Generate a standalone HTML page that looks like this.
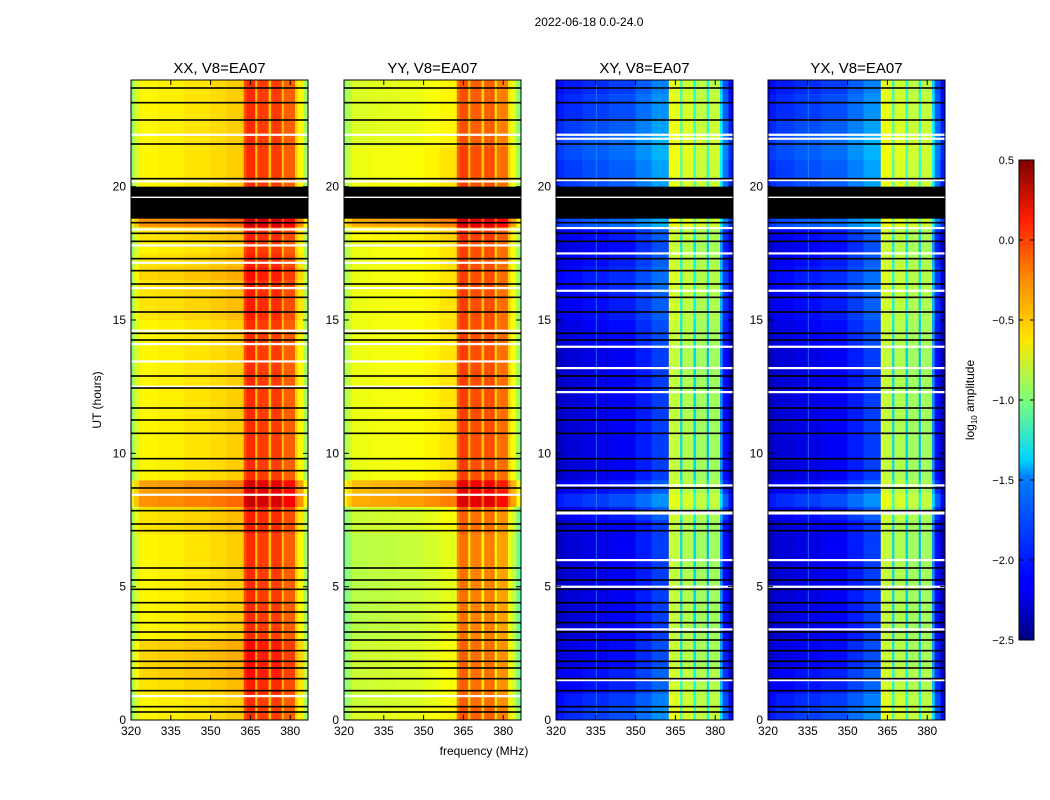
<!DOCTYPE html>
<html><head><meta charset="utf-8">
<style>
html,body{margin:0;padding:0;background:#fff;}
svg{display:block;font-family:"Liberation Sans","DejaVu Sans",sans-serif;}
</style></head>
<body>
<svg id="chart" width="1050" height="800" viewBox="0 0 1050 800" xmlns="http://www.w3.org/2000/svg">
<defs>
<linearGradient id="jet" x1="0" y1="1" x2="0" y2="0">
<stop offset="0" stop-color="#00007f"/><stop offset="0.11" stop-color="#0000ff"/>
<stop offset="0.125" stop-color="#0000ff"/><stop offset="0.34" stop-color="#0080ff"/>
<stop offset="0.375" stop-color="#00d4ff"/><stop offset="0.5" stop-color="#7dff7a"/>
<stop offset="0.625" stop-color="#ffe600"/><stop offset="0.75" stop-color="#ff8c00"/>
<stop offset="0.875" stop-color="#ff1e00"/><stop offset="1" stop-color="#7f0000"/>
</linearGradient>
</defs>
<text x="589" y="26" font-size="12" text-anchor="middle">2022-06-18 0.0-24.0</text>
<g id="panels"></g>
<text x="101" y="400" font-size="12" text-anchor="middle" transform="rotate(-90 101 400)">UT (hours)</text>
<text x="484" y="755" font-size="12" text-anchor="middle">frequency (MHz)</text>
<g id="colorbar"></g>
<text x="974" y="400" font-size="12" text-anchor="middle" transform="rotate(-90 974 400)">log<tspan font-size="8" dy="3">10</tspan><tspan dy="-3"> amplitude</tspan></text>
</svg>
<script>
// frequency bin edges (MHz)
const freqBins = [320,321,323,330,340,350,356,362.5,363.5,366.8,367.6,371.8,372.8,376.8,377.6,381.8,382.8,385,386.7];
// log10 amplitude per frequency bin
const xxFreq = [-1.0,-0.75,-0.6,-0.58,-0.55,-0.52,-0.48,-0.1,0.0,-0.45,-0.05,-0.45,-0.05,-0.45,-0.15,-0.5,-0.6,-0.9];
const yyFreq = [-0.9,-0.78,-0.68,-0.66,-0.64,-0.6,-0.55,-0.15,-0.05,-0.45,-0.1,-0.45,-0.1,-0.5,-0.2,-0.5,-0.65,-0.95];
const xyFreq = [-2.35,-2.3,-2.25,-2.2,-2.15,-2.05,-1.95,-0.75,-0.8,-1.5,-0.85,-1.5,-0.9,-1.6,-0.9,-1.7,-2.1,-2.35];
const yxFreq = [-2.35,-2.3,-2.25,-2.2,-2.15,-2.05,-1.95,-0.75,-0.8,-1.5,-0.85,-1.5,-0.9,-1.6,-0.9,-1.7,-2.1,-2.35];
// time offsets per 0.5 h
const xxTime = [0,0,0.05,0.1,0.1,0.1,0,0,0,0,0,0,0,0,0.05,0.05,0.3,0.25,0,0,0,0,0,0,0,0,0,0,0,0,0.05,0.05,0.05,0.1,0.05,0,0.05,0.3,0.3,0,0,0,0,0,0,0,0,0];
const yyTime = [-0.05,-0.1,-0.1,-0.1,-0.1,-0.1,-0.15,-0.15,-0.15,-0.15,-0.15,-0.15,-0.15,-0.15,-0.1,-0.1,0.3,0.25,0,0,0,0,0,0,0,0,0,0,0,0,0,0,0,0,0,0,0.05,0.3,0.3,0,0,0,0,-0.05,-0.05,-0.05,-0.05,-0.05];
const crossTime = [0.25,0.2,0.12,0.12,0.05,0.05,0,0,0,0,0,0,0,0,0,0.1,0.25,0.1,0,0,0,0,0,0,0,0,0,0,0.05,0.05,0.1,0.1,0.15,0.15,0.1,0.05,0.1,0.35,0.25,0,0.3,0.3,0.35,0.35,0.3,0.25,0.25,0.2];
// flagged times (hours)
const blackLines = [23.7,23.15,22.5,21.6,20.3,18.65,18.25,17.95,17.3,16.85,16.35,15.85,15.3,14.5,14.25,12.9,12.45,11.7,11.25,10.75,9.8,9.35,8.7,7.85,7.35,7.1,5.7,5.25,4.9,4.4,4.05,3.65,3.3,3.0,2.6,2.2,1.95,1.55,1.1,0.5,0.3];
const blackBlock = [18.8,20.0];
const whiteLines = [21.95,20.2,18.4,17.8,17.15,16.2,14.6,14.1,13.45,12.5,8.45,0.9];
const crossWhite = [21.95,21.8,20.25,18.45,17.5,16.1,14.0,13.2,12.3,8.8,7.75,7.8,6.0,5.0,3.4,1.5];
const xTicks = [320,335,350,365,380];
const yTicks = [0,5,10,15,20];
const cbTicks = ["0.5","0.0","\u22120.5","\u22121.0","\u22121.5","\u22122.0","\u22122.5"];
const cbVals = [0.5,0,-0.5,-1,-1.5,-2,-2.5];

const panels = [
 {title:"XX, V8=EA07", x0:131, f:xxFreq, t:xxTime, w:whiteLines, name:"xx"},
 {title:"YY, V8=EA07", x0:344, f:yyFreq, t:yyTime, w:whiteLines, name:"yy"},
 {title:"XY, V8=EA07", x0:556, f:xyFreq, t:crossTime, w:crossWhite, name:"xy"},
 {title:"YX, V8=EA07", x0:768, f:yxFreq, t:crossTime, w:crossWhite, name:"yx"}
];
const PW=177, TOP=80, BOT=720, FMAX=386.7, TMAX=24;
const NS="http://www.w3.org/2000/svg";
function jet(v){
  let t=(v+2.5)/3; t=Math.max(0,Math.min(1,t));
  const c=x=>Math.round(255*Math.max(0,Math.min(1,x)));
  return `rgb(${c(1.5-Math.abs(4*t-3))},${c(1.5-Math.abs(4*t-2))},${c(1.5-Math.abs(4*t-1))})`;
}
function mk(tag,attrs,parent){const e=document.createElementNS(NS,tag);for(const k in attrs)e.setAttribute(k,attrs[k]);parent.appendChild(e);return e;}
const root=document.getElementById('panels');
panels.forEach(p=>{
  const xs=f=>p.x0+(f-320)*PW/(FMAX-320);
  const ys=h=>BOT-h*(BOT-TOP)/TMAX;
  const g=mk('g',{},root);
  
  
  const cross = p.name==="xy"||p.name==="yx";
  for(let r=0;r<p.t.length;r++){
    for(let c=0;c<p.f.length;c++){
      let off=p.t[r];
      if(cross && p.f[c]>-1.2) off*=0.4;
      const v=p.f[c]+off;
      const x1=xs(freqBins[c]), x2=xs(freqBins[c+1]);
      const y1=ys((r+1)*0.5), y2=ys(r*0.5);
      const rc=mk('rect',{x:x1,y:y1,width:x2-x1+0.3,height:y2-y1+0.3,fill:jet(v)},g);
      
      
    }
  }
  if(cross){
    const vl=mk('rect',{x:xs(335),y:TOP,width:1,height:BOT-TOP,fill:"#2aa8ff",opacity:0.6},g);
    
    
  }
  p.w.forEach(h=>{
    const e=mk('rect',{x:p.x0,y:ys(h)-1,width:PW,height:2.2,fill:"#fff"},g);
    
    
  });
  blackLines.forEach(h=>{
    const e=mk('rect',{x:p.x0,y:ys(h)-0.8,width:PW,height:1.6,fill:"#000"},g);
    
    
  });
  const bb=mk('rect',{x:p.x0,y:ys(blackBlock[1]),width:PW,height:ys(blackBlock[0])-ys(blackBlock[1]),fill:"#000"},g);
  
  
  mk('rect',{x:p.x0,y:ys(19.6)-0.7,width:PW,height:1.4,fill:"#fff"},g);
  const fr=mk('rect',{x:p.x0,y:TOP,width:PW,height:BOT-TOP,fill:"none",stroke:"#000","stroke-width":1},g);
  
  
  xTicks.forEach(f=>{
    const x=xs(f);
    mk('line',{x1:x,y1:BOT,x2:x,y2:BOT-5,stroke:"#000"},g);
    mk('line',{x1:x,y1:TOP,x2:x,y2:TOP+5,stroke:"#000"},g);
    const t=mk('text',{x:x,y:BOT+15,"font-size":12,"text-anchor":"middle"},g);
    t.textContent=f;
    
    
  });
  yTicks.forEach(h=>{
    const y=ys(h);
    mk('line',{x1:p.x0,y1:y,x2:p.x0+5,y2:y,stroke:"#000"},g);
    mk('line',{x1:p.x0+PW,y1:y,x2:p.x0+PW-5,y2:y,stroke:"#000"},g);
    const t=mk('text',{x:p.x0-5,y:y+4,"font-size":12,"text-anchor":"end"},g);
    t.textContent=h;
    
    
  });
  const tt=mk('text',{x:p.x0+PW/2,y:TOP-7,"font-size":15,"text-anchor":"middle"},g);
  tt.textContent=p.title;
  
  
});
// colorbar
const cb=document.getElementById('colorbar');
const CBT=160, CBB=640, CBX=1019, CBW=15;
mk('rect',{x:CBX,y:CBT,width:CBW,height:CBB-CBT,fill:"url(#jet)",stroke:"#000","stroke-width":1},cb);
cbVals.forEach((v,i)=>{
  const y=CBB-(v+2.5)/3*(CBB-CBT);
  mk('line',{x1:CBX,y1:y,x2:CBX+4,y2:y,stroke:"#000"},cb);
  mk('line',{x1:CBX+CBW,y1:y,x2:CBX+CBW-4,y2:y,stroke:"#000"},cb);
  const t=mk('text',{x:CBX-5,y:y+4,"font-size":11,"text-anchor":"end"},cb);
  t.textContent=cbTicks[i];
  
  
});
</script>
</body></html>
